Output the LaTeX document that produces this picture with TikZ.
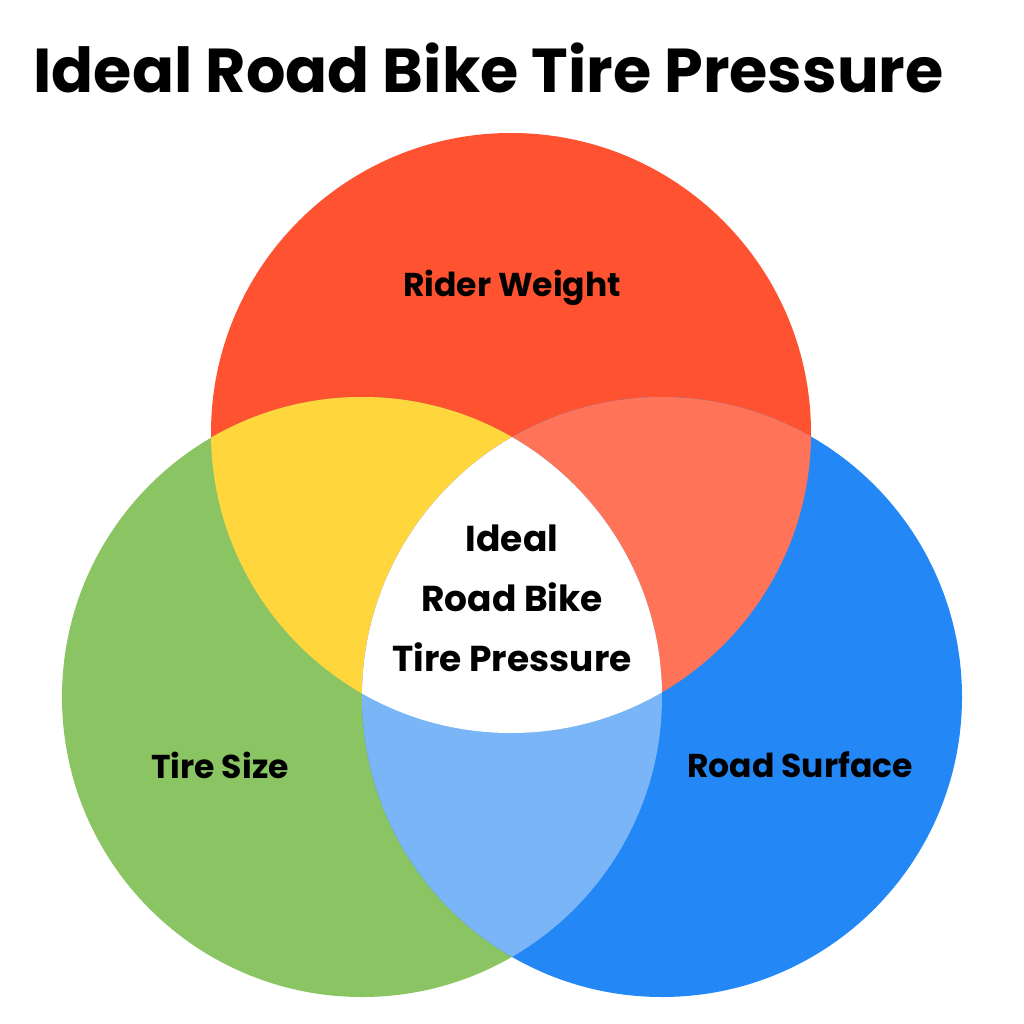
\documentclass[tikz,border=0pt]{standalone}
\usepackage{fontspec}
\setmainfont{Poppins}
\definecolor{cred}{HTML}{FF5230}
\definecolor{cgreen}{HTML}{8BC462}
\definecolor{cblue}{HTML}{2388F5}
\definecolor{cyel}{HTML}{FFD63B}
\definecolor{csal}{HTML}{FF7358}
\definecolor{clb}{HTML}{79B5F7}
\begin{document}
\begin{tikzpicture}[x=1pt,y=-1pt,lab/.style={font=\fontsize{33}{40}\selectfont\bfseries,align=center}]
\useasboundingbox (0,0) rectangle (1024,1024);
\fill[white] (0,0) rectangle (1024,1024);
\def\R{(511,433) circle (300)}
\def\G{(362,697) circle (300)}
\def\B{(662,697) circle (300)}
\fill[cred] \R; \fill[cgreen] \G; \fill[cblue] \B;
\begin{scope}\clip \R; \fill[cyel] \G; \fill[csal] \B; \end{scope}
\begin{scope}\clip \G; \fill[clb] \B; \end{scope}
\begin{scope}\clip \R; \clip \G; \fill[white] \B; \end{scope}
\node[font=\fontsize{62}{70}\selectfont\bfseries,anchor=west] (title) at (30,68) {Ideal Road Bike Tire Pressure};
\node[lab] (rw) at (512,288) {Rider Weight};
\node[lab] (ts) at (220,765) {Tire Size};
\node[lab] (rs) at (800,765) {Road Surface};
\node[lab,font=\fontsize{36}{60}\selectfont\bfseries] (c) at (512,598) {Ideal\\Road Bike\\Tire Pressure};
\end{tikzpicture}
\end{document}
